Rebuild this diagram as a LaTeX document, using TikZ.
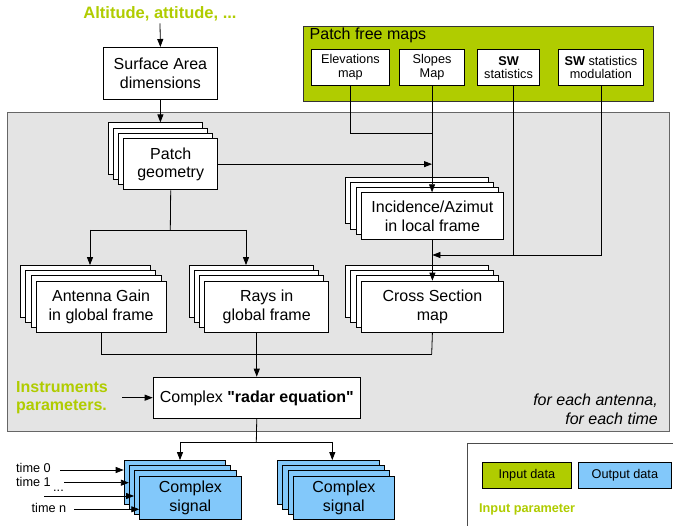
\documentclass[tikz,border=0pt]{standalone}
\usepackage{fontspec}
\setmainfont{Liberation Sans}
\newfontfamily\qfont{Liberation Sans}[Ligatures=TeXOff]
\usetikzlibrary{arrows.meta}
\definecolor{lime}{RGB}{176,204,0}
\definecolor{sky}{RGB}{130,200,250}
\definecolor{panel}{RGB}{228,228,228}
\tikzset{
  box/.style={draw=black, fill=white, line width=0.8pt, inner sep=0pt, align=center, anchor=north west, font=\fontsize{16}{18.5}\selectfont},
  small/.style={font=\fontsize{12.7}{13.5}\selectfont},
  conn/.style={line width=0.8pt},
  arr/.style={conn, -{Triangle[length=8pt,width=6pt]}},
  greenlbl/.style={text=lime, font=\bfseries\fontsize{16}{18}\selectfont, align=left, inner sep=2pt},
}
\newcommand\stackof[7]{%
  \foreach \k in {3,2,1}{\node[box,#7,minimum width=#4pt,minimum height=#5pt] (#1-\k) at ({#2-5.2*\k},{#3-5.2*\k}) {};}
  \node[box,#7,minimum width=#4pt,minimum height=#5pt] (#1) at (#2,#3) {#6};}
\begin{document}
\begin{tikzpicture}[x=1pt,y=-1pt]
\clip (0,0) rectangle (673,526);
\useasboundingbox (0,0) rectangle (673,526);
% panel
\node[draw=black!60, fill=panel, line width=1pt, minimum width=662pt, minimum height=319pt, anchor=north west, inner sep=0pt] (panel) at (7,112) {};
% title and surface
\node[greenlbl, font=\bfseries\fontsize{16.5}{19}\selectfont] (alt) at (160,14) {Altitude, attitude, ...};
\node[box, minimum width=114pt, minimum height=52pt] (surf) at (103,47) {Surface Area\\dimensions};
% patch free maps
\node[draw=black!80, fill=lime, line width=0.8pt, minimum width=350pt, minimum height=75pt, anchor=north west, inner sep=0pt] (pfm) at (303,26) {};
\node[anchor=west, inner sep=0pt, font=\fontsize{16}{18}\selectfont] (pfmlbl) at (309.5,35) {Patch free maps};
\node[box, small, minimum width=78pt, minimum height=36pt] (elev) at (311,49) {Elevations\\map};
\node[box, small, minimum width=64.7pt, minimum height=36pt] (slopes) at (399.3,49) {Slopes\\Map};
\node[box, small, minimum width=61.7pt, minimum height=36pt] (swstat) at (477.3,49) {\textbf{SW}\\statistics};
\node[box, small, minimum width=85.6pt, minimum height=36pt] (swmod) at (557.7,49) {\textbf{SW} statistics\\modulation};
% stacks
\stackof{pg}{123.3}{138}{94}{51.5}{Patch\\geometry}{}
\stackof{inc}{360.7}{192.3}{142.6}{46.7}{Incidence/Azimut\\in local frame}{}
\stackof{cs}{360.7}{280.7}{142.6}{51.6}{Cross Section\\map}{}
\stackof{ant}{35.7}{280.7}{130}{51.6}{Antenna Gain\\in global frame}{}
\stackof{rays}{204.3}{280.7}{124}{51.6}{Rays in\\global frame}{}
\node[box, minimum width=207.3pt, minimum height=41.6pt] (radar) at (152.7,376.7) {Complex {\qfont\bfseries "radar equation"}};
\node[greenlbl, anchor=west] (instr) at (14,398) {Instruments\\parameters.};
\node[anchor=east, align=right, inner sep=0pt, font=\itshape\fontsize{16}{19}\selectfont] (foreach) at (658,409) {for each antenna,\\for each time};
\stackof{sigA}{139.3}{475.7}{101.4}{43.6}{Complex\\signal}{fill=sky}
\stackof{sigB}{292.7}{475.7}{101.6}{43.6}{Complex\\signal}{fill=sky}
% time labels
\node[anchor=east, small, inner sep=0pt] (t0) at (51,468) {time 0};
\node[anchor=east, small, inner sep=0pt] (t1) at (51,481.5) {time 1};
\node[anchor=east, small, inner sep=0pt] (tdots) at (64,491) {...};
\node[anchor=east, small, inner sep=0pt] (tn) at (66.5,507.5) {time n};
% legend
\node[draw=black!70, line width=1pt, fill=white, minimum width=240pt, minimum height=120pt, anchor=north west, inner sep=0pt] (legend) at (467.3,443.3) {};
\node[draw=black, fill=lime, line width=0.8pt, minimum width=88.4pt, minimum height=26pt, anchor=north west, inner sep=0pt, small] (lin) at (482.3,462.3) {Input data};
\node[draw=black, fill=sky, line width=0.8pt, minimum width=92.4pt, minimum height=26pt, anchor=north west, inner sep=0pt, small] (lout) at (578.3,462.3) {Output data};
\node[anchor=west, inner sep=0pt, text=lime, font=\bfseries\fontsize{12.7}{14}\selectfont] (lpar) at (479,509.3) {Input parameter};
% connectors
\draw[arr] (alt.south) -- (surf.north);
\draw[arr] (surf.south) -- (surf.south |- pg-3.north);
\coordinate (elbow) at (431.7,133.3);
\draw[conn] (elev.south) |- (elbow);
\draw[arr] (slopes.south) -- (slopes.south |- inc.north);
\draw[arr] (pg.east) -- (pg.east -| slopes.south);
\draw[arr] (inc.south) -- (cs.north);
\coordinate (swj) at (513.3,255);
\draw[conn] (swstat.south -| swj) -- (swj);
\draw[arr] (swmod.south) |- (inc.south |- swj);
\coordinate (pgsplit) at (170.3,230);
\coordinate (antin) at (90,230);
\coordinate (raysin) at (246,230);
\draw[conn] (pg.south) -- (pgsplit);
\draw[conn] (antin) -- (raysin);
\draw[arr] (antin) -- (antin |- ant-3.north);
\draw[arr] (raysin) -- (raysin |- rays-3.north);
\coordinate (merge) at (431.7,354);
\draw[conn] (ant.south) |- (merge);
\draw[conn] (cs.south) -- (merge);
\draw[arr] (rays.south -| radar.north) -- (radar.north);
\coordinate (instrout) at (122,397.7);
\draw[arr] (instrout) -- (radar.west |- instrout);
\coordinate (rsplit) at (256.3,442);
\coordinate (sAin) at (180,442);
\coordinate (sBin) at (332.3,442);
\draw[conn] (radar.south) -- (rsplit);
\draw[conn] (sAin) -- (sBin);
\draw[arr] (sAin) -- (sAin |- sigA-3.north);
\draw[arr] (sBin) -- (sBin |- sigB-3.north);
\coordinate (t0s) at (60,470);
\coordinate (t1s) at (64.3,482.7);
\coordinate (tds) at (44,496);
\coordinate (tns) at (74,509.3);
\draw[arr] (t0s) -- (sigA-3.west |- t0s);
\draw[arr] (t1s) -- (sigA-2.west |- t1s);
\draw[arr] (tds) -- (sigA-1.west |- tds);
\draw[arr] (tns) -- (sigA.west |- tns);
\end{tikzpicture}
\end{document}
